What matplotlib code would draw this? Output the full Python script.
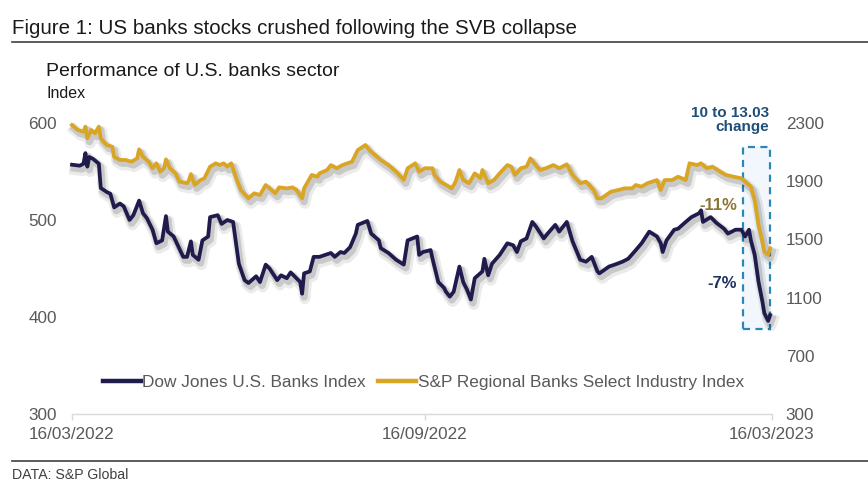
import matplotlib
matplotlib.use("Agg")
import matplotlib.pyplot as plt
import matplotlib.patheffects as pe
from matplotlib.patches import Rectangle
import pandas as pd

plt.rcParams['font.family'] = ['Liberation Sans', 'DejaVu Sans']

start_date = "2022-03-16"
x_tick_dates = ["2022-03-16", "2022-09-16", "2023-03-16"]
x_tick_labels = ["16/03/2022", "16/09/2022", "16/03/2023"]
left_ticks = [300, 400, 500, 600]
right_ticks = [300, 700, 1100, 1500, 1900, 2300]

dj_name = "Dow Jones U.S. Banks Index"
sp_name = "S&P Regional Banks Select Industry Index"

dj_day = [0, 4, 6, 7, 8, 9, 11, 14, 15, 18, 20, 22, 25, 27, 30, 32, 35, 37, 39, 42,
          44, 47, 49, 50, 53, 58, 60, 62, 63, 66, 68, 71, 72, 76, 78, 81, 84, 87, 90, 92,
          96, 98, 101, 103, 107, 109, 112, 114, 116, 119, 120, 121, 124, 126, 129, 135, 137, 140, 142, 145,
          148, 149, 154, 156, 160, 161, 165, 169, 173, 175, 180, 181, 183, 187, 188, 191, 194, 195, 197, 199,
          202, 204, 206, 208, 210, 214, 215, 217, 219, 223, 227, 230, 232, 234, 237, 240, 242, 246, 248, 252,
          254, 258, 261, 265, 268, 271, 274, 275, 280, 283, 287, 290, 294, 297, 301, 305, 307, 308, 310, 314,
          316, 320, 323, 327, 328, 329, 333, 336, 340, 342, 346, 349, 351, 353, 354, 356, 358, 360, 361, 363,
          364]
dj_val = [557, 556, 558, 569, 555, 565, 563, 558, 533, 529, 527, 513, 517, 514, 500, 505, 520, 507, 502, 490,
          476, 479, 504, 488, 483, 462, 462, 478, 464, 459, 479, 483, 503, 505, 496, 500, 498, 455, 438, 435,
          442, 436, 454, 450, 438, 443, 440, 446, 442, 436, 424, 445, 447, 462, 462, 466, 462, 467, 466, 472,
          486, 495, 499, 486, 479, 471, 466, 459, 454, 479, 483, 464, 467, 469, 460, 436, 430, 426, 421, 426,
          452, 436, 428, 418, 440, 447, 460, 443, 455, 464, 476, 474, 467, 478, 481, 498, 493, 481, 486, 495,
          488, 498, 478, 459, 457, 462, 447, 445, 452, 454, 457, 460, 469, 476, 488, 483, 476, 467, 479, 490,
          491, 498, 503, 507, 510, 498, 503, 497, 491, 486, 490, 490, 483, 490, 479, 464, 436, 416, 404, 396,
          402]

sp_day = [0, 3, 6, 7, 8, 10, 12, 14, 15, 18, 21, 22, 25, 28, 31, 34, 35, 37, 40, 42,
          44, 46, 48, 49, 51, 54, 56, 60, 61, 62, 64, 67, 69, 72, 75, 77, 79, 81, 83, 86,
          88, 92, 95, 98, 101, 103, 106, 108, 112, 115, 117, 120, 121, 125, 128, 129, 133, 135, 138, 141,
          146, 149, 153, 155, 158, 161, 165, 169, 173, 175, 179, 181, 184, 188, 189, 192, 195, 198, 200, 202,
          204, 207, 210, 213, 214, 217, 220, 223, 227, 229, 231, 234, 237, 239, 241, 244, 247, 251, 254, 258,
          261, 265, 268, 272, 274, 276, 281, 285, 288, 292, 294, 297, 300, 305, 307, 309, 313, 316, 320, 322,
          326, 328, 331, 334, 338, 341, 345, 349, 352, 354, 356, 358, 360, 361, 363, 364]
sp_val = [2286, 2252, 2240, 2275, 2195, 2252, 2229, 2275, 2195, 2149, 2137, 2068, 2046, 2046, 2034, 2057, 2119, 2068, 2034, 1989,
          2023, 1965, 1989, 2050, 1989, 1954, 1897, 1886, 1908, 1949, 1874, 1908, 1920, 2000, 2023, 2011, 2023, 2000, 2023, 1908,
          1840, 1782, 1817, 1805, 1874, 1851, 1817, 1858, 1851, 1858, 1840, 1782, 1851, 1943, 1931, 1954, 1977, 2011, 1989, 2011,
          2034, 2114, 2149, 2114, 2080, 2046, 2011, 1965, 1908, 1989, 2023, 1965, 1989, 1989, 1943, 1897, 1874, 1851, 1897, 1977,
          1908, 1886, 1954, 1920, 1977, 1886, 1908, 1954, 2011, 2000, 1943, 1989, 2000, 2057, 2023, 1977, 1989, 2011, 1989, 2016,
          1943, 1886, 1897, 1840, 1782, 1782, 1828, 1840, 1851, 1851, 1874, 1862, 1886, 1908, 1840, 1908, 1908, 1931, 1908, 2023,
          2011, 2023, 1989, 2000, 1965, 1943, 1931, 1920, 1886, 1862, 1771, 1599, 1484, 1415, 1393, 1439]

assert len(dj_day) == len(dj_val) and len(sp_day) == len(sp_val)

t0 = pd.Timestamp(start_date)
dj_dates = t0 + pd.to_timedelta(dj_day, unit="D")
sp_dates = t0 + pd.to_timedelta(sp_day, unit="D")

NAVY = "#1f1b4d"
GOLD = "#d9a522"
TICK = "#595959"

W, H = 868, 490
fig = plt.figure(figsize=(W / 100, H / 100), dpi=100)
fig.patch.set_facecolor("white")

ax = fig.add_axes([72 / W, 1 - 414 / H, 700 / W, 291 / H])
ax2 = ax.twinx()

shadow = [pe.SimpleLineShadow(offset=(1.5, -2.5), shadow_color="k", alpha=0.14, linewidth=5),
          pe.SimpleLineShadow(offset=(2.0, -3.5), shadow_color="k", alpha=0.08, linewidth=8),
          pe.Normal()]

ax.plot(dj_dates, dj_val, color=NAVY, lw=2.7, solid_joinstyle="round",
        path_effects=shadow, label=dj_name, zorder=3, clip_on=False)
ax2.plot(sp_dates, sp_val, color=GOLD, lw=2.7, solid_joinstyle="round",
         path_effects=shadow, label=sp_name, zorder=3, clip_on=False)

# highlight box
box = Rectangle((0.959, 0.292), 0.997 - 0.959, 0.9175 - 0.292, transform=ax.transAxes,
                facecolor="#f1f7fc", edgecolor="#2b87b5", lw=1.6,
                linestyle=(0, (3.2, 2.4)), zorder=1, clip_on=False)
ax.add_patch(box)

ax.set_xlim(pd.Timestamp(x_tick_dates[0]), pd.Timestamp(x_tick_dates[-1]))
ax.set_ylim(left_ticks[0], left_ticks[-1])
ax2.set_ylim(right_ticks[0], right_ticks[-1])
ax.set_yticks(left_ticks)
ax2.set_yticks(right_ticks)
ax.set_xticks(pd.to_datetime(x_tick_dates))
ax.set_xticklabels(x_tick_labels)

for a in (ax, ax2):
    for s in a.spines.values():
        s.set_visible(False)
ax.spines["bottom"].set_visible(True)
ax.spines["bottom"].set_color("#d9d9d9")
ax.spines["bottom"].set_linewidth(1.0)

ax.tick_params(axis="y", length=0, pad=11, labelsize=12.3, labelcolor=TICK)
ax2.tick_params(axis="y", length=0, pad=10, labelsize=12.3, labelcolor=TICK)
ax.tick_params(axis="x", length=4.5, width=1, color="#d9d9d9", pad=5, labelsize=12.3, labelcolor=TICK)

# legend
h1, l1 = ax.get_legend_handles_labels()
h2, l2 = ax2.get_legend_handles_labels()
leg = ax2.legend(h1 + h2, l1 + l2, loc="center", bbox_to_anchor=(0.502, 0.108), ncol=2,
                 frameon=False, fontsize=12.4, handlelength=2.2, handletextpad=0.1,
                 columnspacing=0.7, borderaxespad=0)
for line in leg.get_lines():
    line.set_linewidth(3.2)
    line.set_path_effects([])
for t in leg.get_texts():
    t.set_color(TICK)

# annotations
ax2.text(0.9957, 1.010, "10 to 13.03\nchange", transform=ax.transAxes, ha="right", va="center",
         multialignment="right", fontsize=11, fontweight="bold", color="#1f4e79", linespacing=1.05)
ax2.text(0.924, 0.718, "-11%", transform=ax.transAxes, ha="center", va="center",
         fontsize=12, fontweight="bold", color="#8c7433")
ax2.text(0.9286, 0.447, "-7%", transform=ax.transAxes, ha="center", va="center",
         fontsize=12, fontweight="bold", color="#1f2f5e")

# titles and frame lines
fig.text(12 / W, 1 - 29 / H, "Figure 1: US banks stocks crushed following the SVB collapse",
         ha="left", va="center", fontsize=14.8, color="#1a1a1a")
fig.add_artist(plt.Line2D([12 / W, 1.0], [1 - 42 / H, 1 - 42 / H], color="#404040", lw=1.2))
fig.text(46 / W, 1 - 71 / H, "Performance of U.S. banks sector", ha="left", va="center",
         fontsize=14, color="#1a1a1a")
fig.text(46 / W, 1 - 94 / H, "Index", ha="left", va="center", fontsize=11.5, color="#1a1a1a")
fig.add_artist(plt.Line2D([12 / W, 1.0], [1 - 461 / H, 1 - 461 / H], color="#404040", lw=1.2))
fig.text(12 / W, 1 - 475 / H, "DATA: S&P Global", ha="left", va="center", fontsize=10.2, color="#404040")

fig.savefig("out.png", dpi=100, facecolor="white")
